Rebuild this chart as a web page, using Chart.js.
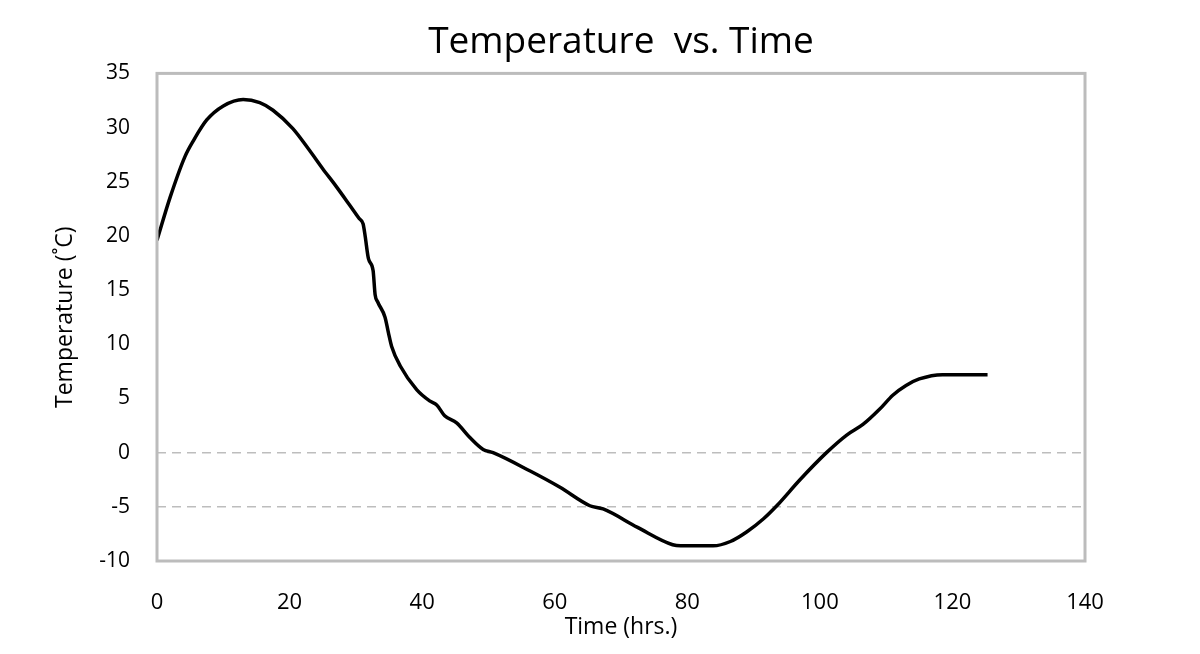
<!DOCTYPE html>
<html>
<head>
<meta charset="utf-8">
<script src="https://cdn.jsdelivr.net/npm/chart.js@4"></script>
<style>
  html, body { margin: 0; padding: 0; background: #fff; }
  #wrap { width: 1200px; height: 654px; }
</style>
</head>
<body>
<div id="wrap"><canvas id="tempChart" width="1200" height="654"></canvas></div>
<script>
  // readings
  const timeHrs = [0, 2, 4.2, 5.5, 7.5, 10, 13, 15.5, 17.5, 20.5, 23, 25, 27, 29, 30.5, 31.1, 31.4, 31.9, 32.6, 32.9, 33.3,
    34.4, 34.9, 35.4, 36.7, 39.2, 41.2, 42.2, 43.4, 45.2, 47.2, 49.2, 50.7, 56.3, 60.8, 65.3, 67.3, 72.5,
    77.8, 79, 83.9, 86.5, 89, 91.5, 93.5, 97, 101, 104, 106.5, 109, 111, 113, 115, 118.5, 125.3];
  const tempC = [19.6, 23.6, 27.3, 28.8, 30.7, 32, 32.6, 32.3, 31.6, 29.9, 27.9, 26.2, 24.6, 22.9, 21.6, 21.1, 20, 17.9, 16.8, 14.6, 13.9,
    12.5, 11.1, 9.8, 8.0, 5.8, 4.75, 4.4, 3.4, 2.75, 1.4, 0.3, 0, -1.7, -3.2, -4.9, -5.2, -6.9,
    -8.5, -8.6, -8.6, -8.2, -7.3, -6.1, -4.9, -2.5, 0, 1.6, 2.6, 4, 5.3, 6.2, 6.8, 7.2, 7.2];
  const dashedLevels = [0, -5];

  const boxPlugin = {
    id: 'boxPlugin',
    afterDraw(chart) {
      const { ctx, chartArea: a } = chart;
      ctx.save();
      ctx.strokeStyle = '#bcbcbc';
      ctx.lineWidth = 3;
      ctx.strokeRect(a.left, a.top, a.right - a.left, a.bottom - a.top);
      ctx.restore();
    }
  };

  const ctx = document.getElementById('tempChart').getContext('2d');
  new Chart(ctx, {
    type: 'line',
    data: {
      datasets: [{
        data: timeHrs.map((t, i) => ({ x: t, y: tempC[i] })),
        borderColor: '#000',
        borderWidth: 3.5,
        pointRadius: 0,
        fill: false,
        cubicInterpolationMode: 'monotone'
      }]
    },
    options: {
      responsive: false,
      animation: false,
      layout: { padding: { left: 0, right: 115, top: 0, bottom: 0 } },
      plugins: {
        legend: { display: false },
        tooltip: { enabled: false },
        title: {
          display: true,
          fullSize: false,
          text: 'Temperature  vs. Time',
          color: '#000',
          font: { family: 'Open Sans', size: 37, weight: 'normal' },
          padding: { top: 20, bottom: 9 }
        }
      },
      scales: {
        x: {
          type: 'linear',
          min: 0, max: 140,
          ticks: {
            stepSize: 20, color: '#000', padding: 29, maxRotation: 0,
            font: { family: 'Open Sans', size: 22 }
          },
          grid: { display: false, drawTicks: false },
          border: { display: false },
          title: {
            display: true, text: 'Time (hrs.)', color: '#000',
            font: { family: 'Open Sans', size: 23 },
            padding: { top: 0, bottom: 13 }
          },
          afterFit(scale) { scale.height = 93; }
        },
        y: {
          min: -10, max: 35,
          ticks: {
            stepSize: 5, color: '#000', padding: 27,
            font: { family: 'Open Sans', size: 21 }
          },
          grid: {
            drawTicks: false,
            color: c => dashedLevels.includes(c.tick.value) ? '#bdbdbd' : 'rgba(0,0,0,0)',
            lineWidth: 1.5
          },
          border: { display: false, dash: [9, 6] },
          title: {
            display: true, text: 'Temperature (˚C)', color: '#000',
            font: { family: 'Open Sans', size: 23 },
            padding: { top: 52, bottom: 0 }
          },
          afterFit(scale) { scale.width = 157; }
        }
      }
    },
    plugins: [boxPlugin]
  });
</script>
</body>
</html>
